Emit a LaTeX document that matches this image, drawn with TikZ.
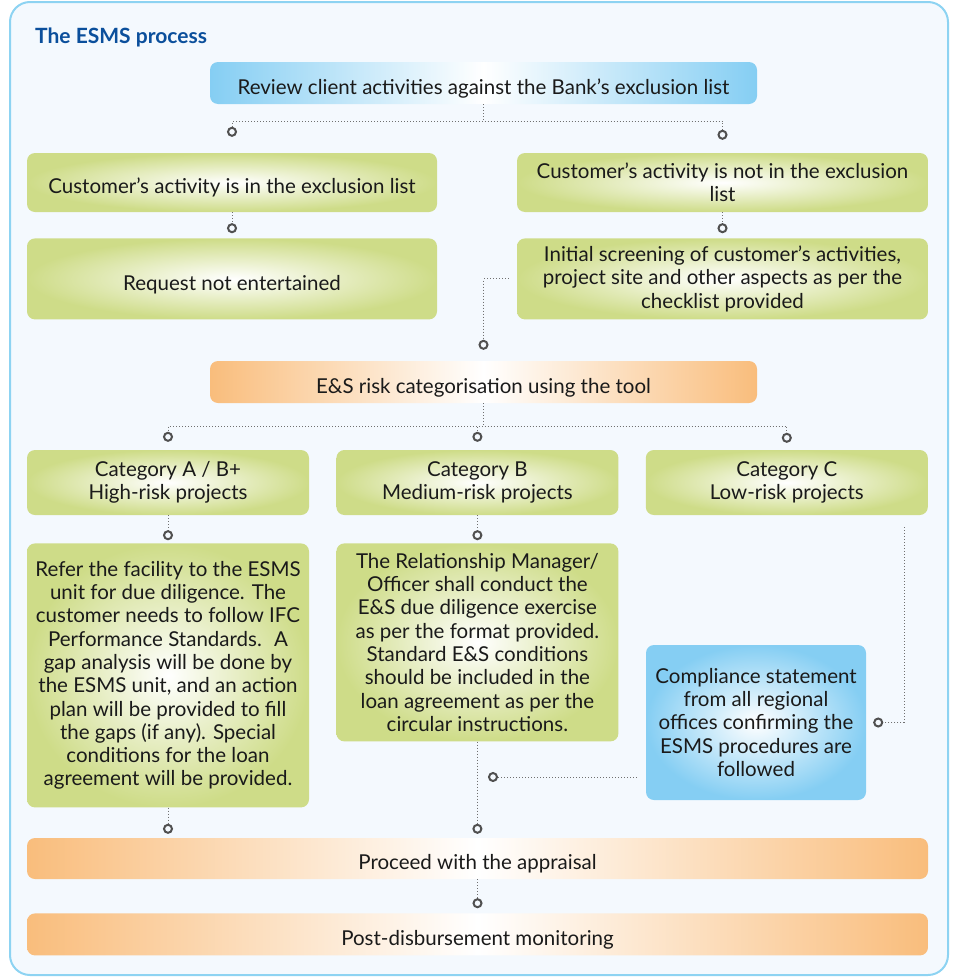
\documentclass[tikz,border=0pt]{standalone}
\usepackage{fontspec}
\setmainfont{Lato}
\usetikzlibrary{positioning,arrows.meta}

\definecolor{esmsblue}{HTML}{0B4F9C}
\definecolor{framefill}{HTML}{F4F9FE}
\definecolor{frameline}{HTML}{8DD3F2}
\definecolor{boxblue}{HTML}{85CEF3}
\definecolor{boxgreen}{HTML}{CEDC88}
\definecolor{boxorange}{HTML}{F9BD7C}
\definecolor{linkgray}{HTML}{707070}
\definecolor{tipgray}{HTML}{505050}
\definecolor{txt}{HTML}{1A1A1A}

\begin{document}
\begin{tikzpicture}[x=1pt,y=-1pt,font=\fontsize{20.5}{23.3}\selectfont,text=txt]
	\tikzstyle{box}=[rounded corners=8pt, align=center, inner sep=4pt, execute at begin node={\rule{0pt}{26pt}}]
	\tikzstyle{greenbox}=[box, inner color=white, outer color=boxgreen]
	\tikzstyle{bluebar}=[box, left color=boxblue, right color=boxblue, middle color=white]
	\tikzstyle{orangebar}=[box, left color=boxorange, right color=boxorange, middle color=white]
	\tikzstyle{bluebox}=[box, inner color=white, outer color=boxblue]
	\tikzstyle{link}=[draw=linkgray, line width=1pt, dash pattern=on 1pt off 2pt,
		-{Circle[open, length=10pt, width=10pt, line width=2pt, color=tipgray]}]
	\useasboundingbox (0,0) rectangle (953,977);
	% frame and title
	\draw[rounded corners=20pt, fill=framefill, draw=frameline, line width=2pt] (10,2) rectangle (948,975);
	\node[anchor=base west, text=esmsblue, font=\fontsize{21}{24}\selectfont\bfseries, inner sep=0pt] (title) at (35,43) {The ESMS process};
		\node[bluebar, minimum width=547pt, minimum height=42pt] (review) at (483.5,83) {Review client activities against the Bank’s exclusion list};
		\node[greenbox, minimum width=410pt, minimum height=59pt] (excl) at (232,182.5) {Customer’s activity is in the exclusion list};
		\node[greenbox, minimum width=411pt, minimum height=59pt] (notexcl) at (722.5,182.5) {Customer’s activity is not in the exclusion\\list};
		\node[greenbox, minimum width=410pt, minimum height=81pt] (reject) [below=26pt of excl] {Request not entertained};
		\node[greenbox, minimum width=411pt, minimum height=81pt] (screen) [below=26pt of notexcl] {Initial screening of customer’s activities,\\project site and other aspects as per the\\checklist provided};
		\node[orangebar, minimum width=547pt, minimum height=42pt] (cat) at (483.5,382) {E\&S risk categorisation using the tool};
		\node[greenbox, minimum width=282pt, minimum height=65pt] (catA) at (168,482.5) {Category A / B+\\High-risk projects};
		\node[greenbox, minimum width=282pt, minimum height=65pt] (catB) [right=27pt of catA] {Category B\\Medium-risk projects};
		\node[greenbox, minimum width=282pt, minimum height=65pt] (catC) [right=27pt of catB] {Category C\\Low-risk projects};
		\node[greenbox, minimum width=282pt, minimum height=264pt] (descA) [below=28pt of catA] {Refer the facility to the ESMS\\unit for due diligence. The\\customer needs to follow IFC\\Performance Standards.~ A\\gap analysis will be done by\\the ESMS unit, and an action\\plan will be provided to fill\\the gaps (if any). Special\\conditions for the loan\\agreement will be provided.};
		\node[greenbox, minimum width=282pt, minimum height=198pt] (descB) [below=28pt of catB] {The Relationship Manager/\\Officer shall conduct the\\E\&S due diligence exercise\\as per the format provided.\\Standard E\&S conditions\\should be included in the\\loan agreement as per the\\circular instructions.};
		\node[bluebox, minimum width=220pt, minimum height=155pt] (comp) at (756,722.5) {Compliance statement\\from all regional\\offices confirming the\\ESMS procedures are\\followed};
		\node[orangebar, minimum width=901pt, minimum height=41pt] (proceed) at (477.5,858.5) {Proceed with the appraisal};
		\node[orangebar, minimum width=901pt, minimum height=42pt] (post) [below=34pt of proceed] {Post-disbursement monitoring};
		\coordinate (merge) at (479,777);
			% dotted links
			\draw[link, shorten >=16pt] (review.south) -- ++(0,17) -| (excl.north);
			\draw[link, shorten >=13pt] (review.south) -- ++(0,17) -| (notexcl.north);
			\draw[link, shorten >=5pt] (excl) -- (reject);
			\draw[link, shorten >=5pt] (notexcl) -- (screen);
			\draw[link, shorten >=11pt] ([xshift=-8pt]screen.west) -| (cat.north);
			\draw[link, shorten >=8pt] (cat.south) -- ++(0,23) -| (catA.north);
			\draw[link, shorten >=8pt] (cat.south) -- ++(0,23) -| (catB.north);
			\draw[link, shorten >=7pt] (cat.south) -- ++(0,23) -| (catC.north);
			\draw[link, shorten >=3pt] (catA) -- (descA);
			\draw[link, shorten >=3pt] (catB) -- (descB);
			\draw[link, shorten >=4pt] (descA.south) -- (descA.south |- proceed.north);
			\draw[link, shorten >=4pt] (descB.south) -- (descB.south |- proceed.north);
			\draw[link, shorten >=7pt] ([shift={(-24,12)}]catC.south east) |- (comp.east);
			\draw[link, shorten >=9pt] ([xshift=-9pt]comp.west |- merge) -- (merge);
			\draw[link, shorten >=5pt] (proceed) -- (post);
\end{tikzpicture}
\end{document}
